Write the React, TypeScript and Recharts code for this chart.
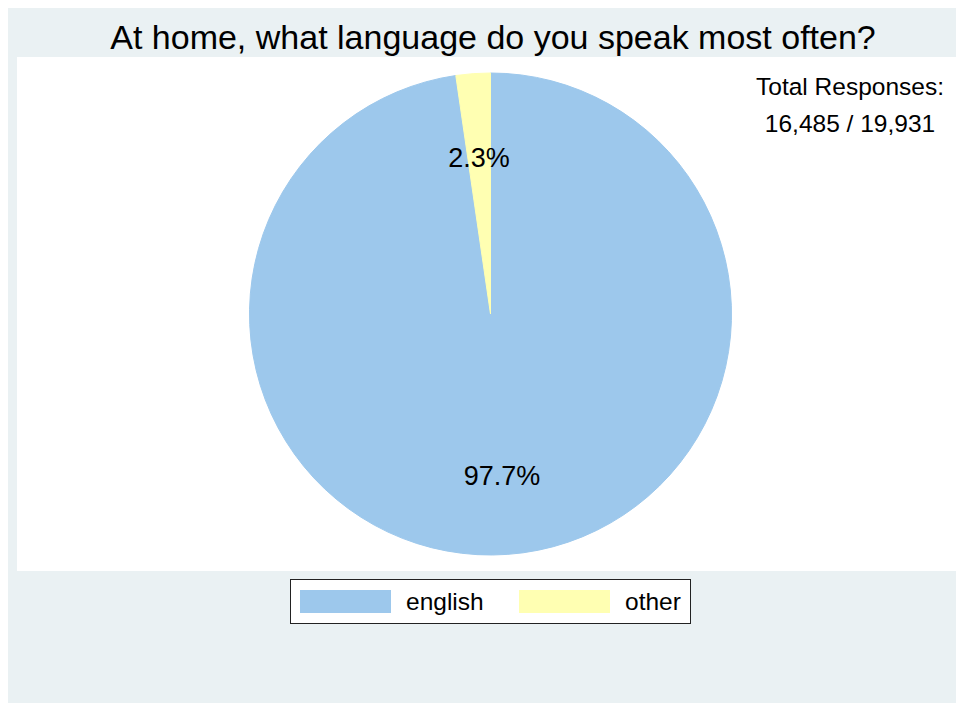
import { PieChart, Pie, Cell, Legend } from "recharts";

const categories = ["english", "other"];
const shares = [97.7, 2.3];
const colors = ["#9dc8ec", "#ffffb2"];
const titleText = "At home, what language do you speak most often?";
const totalLines = ["Total Responses:", "16,485 / 19,931"];

const data = categories.map((name, i) => ({ name, value: shares[i] }));

const RAD = Math.PI / 180;

function renderLabel(props: any) {
  const { cx, cy, midAngle, outerRadius, value } = props;
  const r = outerRadius * 0.66;
  const x = cx + r * Math.cos(-midAngle * RAD);
  const y = cy + r * Math.sin(-midAngle * RAD) + 3;
  return (
    <text
      x={x}
      y={y}
      textAnchor="middle"
      dominantBaseline="central"
      fill="#000"
      fontSize={27}
      fontFamily="Liberation Sans, Arial, sans-serif"
    >
      {value.toFixed(1)}%
    </text>
  );
}

function LegendBox() {
  return (
    <div
      style={{
        width: 399,
        height: 43,
        border: "1px solid #222",
        background: "#fff",
        display: "flex",
        alignItems: "center",
        fontFamily: "Liberation Sans, Arial, sans-serif",
        fontSize: 24.5,
        color: "#000",
      }}
    >
      {categories.map((c, i) => (
        <div key={c} style={{ display: "flex", alignItems: "center", marginLeft: i === 0 ? 9 : 0 }}>
          <span style={{ width: 91, height: 23, background: colors[i], display: "inline-block" }} />
          <span style={{ marginLeft: 15, width: i === 0 ? 113 : 60 }}>{c}</span>
        </div>
      ))}
    </div>
  );
}

export default function App() {
  return (
    <div
      style={{
        position: "relative",
        marginTop: -3,
        width: 956,
        height: 698,
        background: "#eaf1f3",
        fontFamily: "Liberation Sans, Arial, sans-serif",
      }}
    >
      <div
        style={{
          position: "absolute",
          left: 0,
          top: 12,
          width: 970,
          textAlign: "center",
          fontSize: 34,
          lineHeight: "40px",
          color: "#000",
        }}
      >
        {titleText}
      </div>
      <div
        style={{
          position: "absolute",
          left: 9,
          top: 52,
          width: 947,
          height: 514,
          background: "#fff",
        }}
      />
      <div
        style={{
          position: "absolute",
          left: 742,
          top: 63,
          width: 200,
          textAlign: "center",
          fontSize: 24.5,
          lineHeight: "37px",
          color: "#000",
        }}
      >
        {totalLines.map((t) => (
          <div key={t}>{t}</div>
        ))}
      </div>
      <div style={{ position: "absolute", left: 0, top: 0 }}>
        <PieChart width={956} height={698}>
          <Pie
            data={data}
            dataKey="value"
            nameKey="name"
            cx={477.5}
            cy={304}
            outerRadius={241}
            startAngle={90}
            endAngle={-270}
            label={renderLabel}
            labelLine={false}
            isAnimationActive={false}
          >
            {data.map((d, i) => (
              <Cell key={d.name} fill={colors[i]} stroke={colors[i]} strokeWidth={1} />
            ))}
          </Pie>
          <Legend
            content={() => <LegendBox />}
            wrapperStyle={{ position: "absolute", left: 282, top: 574, width: 401, bottom: "auto" }}
          />
        </PieChart>
      </div>
    </div>
  );
}
